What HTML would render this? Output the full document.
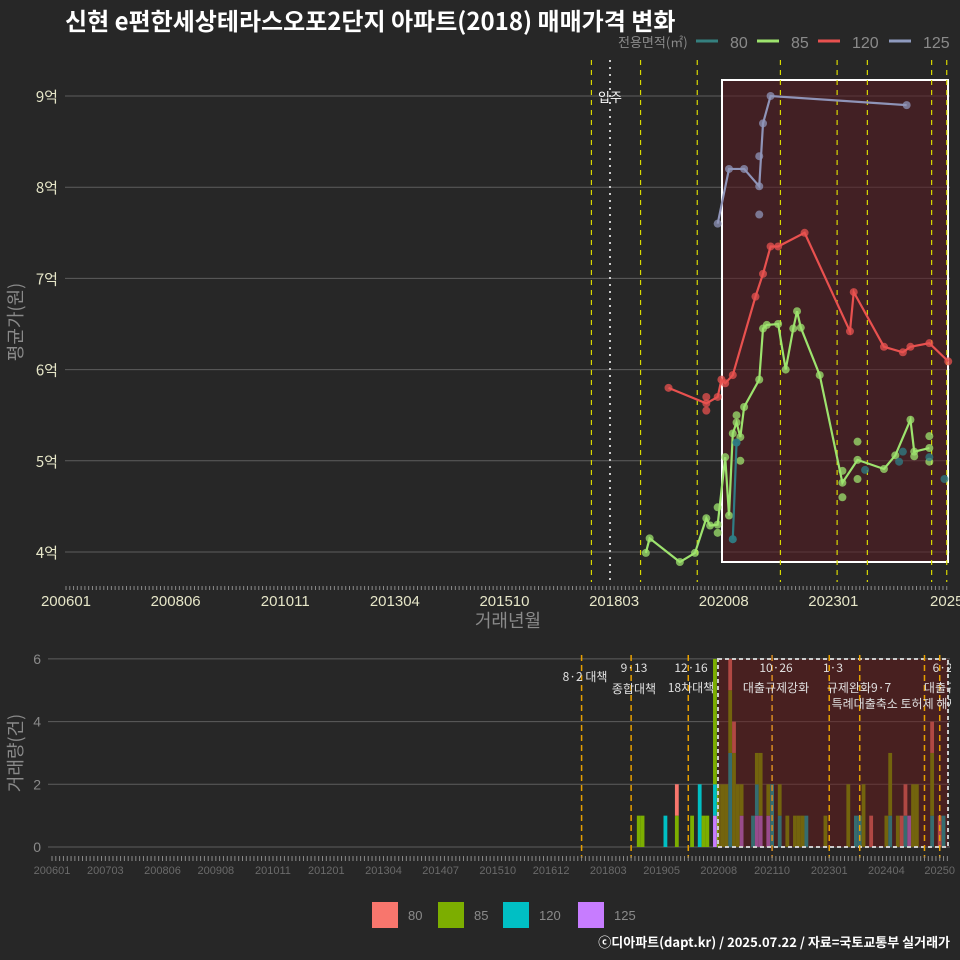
<!DOCTYPE html>
<html><head><meta charset="utf-8">
<style>
html,body{margin:0;padding:0;background:#272727;}
svg{display:block;font-family:"Liberation Sans","Noto Sans CJK KR",sans-serif;}
</style></head>
<body>
<svg id="chart" width="960" height="960" viewBox="0 0 960 960">
<defs><clipPath id="annClip"><rect x="0" y="640" width="951" height="240"/></clipPath></defs>
<rect x="0" y="0" width="960" height="960" fill="#272727"/>
<text x="65" y="30" font-size="24" font-weight="bold" fill="#ffffff" font-family="'Noto Sans CJK KR',sans-serif">신현 e편한세상테라스오포2단지 아파트(2018) 매매가격 변화</text>
<g>
<text x="618" y="47" font-size="13" fill="#8a8a8a" font-family="'Noto Sans CJK KR',sans-serif">전용면적(㎡)</text>
<line x1="696" y1="41" x2="718" y2="41" stroke="#35807f" stroke-width="3"/>
<text x="730" y="48" font-size="16" fill="#8a8a8a">80</text>
<line x1="757" y1="41" x2="779" y2="41" stroke="#9de36e" stroke-width="3"/>
<text x="791" y="48" font-size="16" fill="#8a8a8a">85</text>
<line x1="818" y1="41" x2="840" y2="41" stroke="#e8514f" stroke-width="3"/>
<text x="852" y="48" font-size="16" fill="#8a8a8a">120</text>
<line x1="889" y1="41" x2="911" y2="41" stroke="#8f9bbf" stroke-width="3"/>
<text x="923" y="48" font-size="16" fill="#8a8a8a">125</text>
</g>
<g id="topPanel"></g>
<g id="botPanel"></g>
<text x="950" y="947" text-anchor="end" font-size="13" font-weight="bold" fill="#ffffff" font-family="'Noto Sans CJK KR',sans-serif">ⓒ디아파트(dapt.kr) / 2025.07.22 / 자료=국토교통부 실거래가</text>
</svg>
<script>
// ---- price panel data ----
const priceTicks = [4,5,6,7,8,9];
const priceTickLabels = ["4억","5억","6억","7억","8억","9억"];
const xTickLabels = ["200601","200806","201011","201304","201510","201803","202008","202301","2025"];
const xTickMonths = [200601,200806,201011,201304,201509,201802,202007,202212,202506];
const s80LineMonths = [202009,202010];
const s80LineVals = [4.14,5.20];
const s80DotMonths = [202009,202010,202308,202405,202406,202501,202505];
const s80DotVals = [4.14,5.20,4.90,4.99,5.10,5.04,4.80];
const s85LineMonths = [201810,201811,201907,201911,202002,202003,202005,202007,202008,202009,202010,202011,202012,202104,202105,202106,202109,202111,202201,202202,202203,202208,202302,202306,202401,202404,202408,202409,202501];
const s85LineVals = [3.99,4.15,3.89,3.99,4.37,4.29,4.30,5.04,4.40,5.30,5.42,5.26,5.59,5.89,6.45,6.49,6.50,6.00,6.45,6.64,6.46,5.94,4.76,5.01,4.91,5.06,5.45,5.10,5.14];
const s85DotMonths = [202005,202005,202010,202011,202302,202302,202306,202306,202409,202501,202501];
const s85DotVals = [4.49,4.21,5.50,5.00,4.89,4.60,5.21,4.80,5.05,5.27,4.99];
const s120LineMonths = [201904,202002,202005,202006,202007,202009,202103,202105,202107,202109,202204,202304,202305,202401,202406,202408,202501,202506];
const s120LineVals = [5.80,5.63,5.70,5.89,5.85,5.94,6.80,7.05,7.35,7.35,7.50,6.42,6.85,6.25,6.19,6.25,6.29,6.09];
const s120DotMonths = [202002,202002];
const s120DotVals = [5.70,5.55];
const s125LineMonths = [202005,202008,202012,202104,202105,202107,202407];
const s125LineVals = [7.60,8.20,8.20,8.01,8.70,9.00,8.90];
const s125DotMonths = [202104,202104];
const s125DotVals = [8.34,7.70];
// ---- volume panel data ----
const volTicks = [0,2,4,6];
const volXLabels = ["200601","200703","200806","200908","201011","201201","201304","201407","201510","201612","201803","201905","202008","202110","202301","202404","20250"];
const volXMonths = [200601,200703,200806,200908,201011,201201,201304,201407,201510,201612,201803,201905,202008,202110,202301,202404,202506];
const barMonths = [201811,201812,201906,201909,202001,202003,202004,202005,202007,202008,202009,202010,202011,202012,202101,202102,202105,202106,202107,202109,202110,202112,202202,202204,202205,202206,202207,202212,202306,202308,202309,202310,202312,202404,202405,202407,202408,202409,202410,202411,202412,202504,202506,202507];
const bar80  = [0,0,0,1,0,0,0,0,0,0,0,0,1,1,0,0,0,0,0,0,0,0,0,0,0,0,0,0,0,0,0,0,1,0,0,0,1,1,0,0,0,1,1,0];
const bar85  = [1,1,0,1,1,0,1,1,4,2,2,2,2,3,2,1,0,1,2,1,0,1,1,1,1,1,0,1,2,0,0,2,0,1,2,1,0,0,0,2,2,2,0,0];
const bar120 = [0,0,1,0,0,2,0,0,1,0,0,0,3,0,0,0,1,1,0,0,2,1,0,0,0,0,1,0,0,1,1,0,0,0,1,0,0,1,0,0,0,1,0,1];
const bar125 = [0,0,0,0,0,0,0,0,1,0,0,0,0,0,0,1,0,1,1,1,0,0,0,0,0,0,0,0,0,0,0,0,0,0,0,0,0,0,1,0,0,0,0,0];
// ---- policy events ----
const topPolicyMonths = [201708,201809,201912,202110,202301,202309,202502,202506];
const botPolicyMonths = [201708,201809,201912,202110,202301,202309,202502,202506];

const NS="http://www.w3.org/2000/svg";
function mk(parent,tag,attrs){const e=document.createElementNS(NS,tag);for(const k in attrs)e.setAttribute(k,attrs[k]);parent.appendChild(e);return e;}
function mIdx(ym){return (Math.floor(ym/100)-2006)*12+(ym%100-1);}
function xTop(ym){return 66+3.78*mIdx(ym);}
function xPt(ym){return xTop(ym)+1.5;}
function yTop(v){return 552-(v-4)*91.2;}
function xBot(ym){return 52+3.81*mIdx(ym);}
function yBot(v){return 847-v*31.35;}

const topG=document.getElementById('topPanel');
priceTicks.forEach((t,i)=>{
  const l=mk(topG,'line',{x1:65,x2:950,y1:yTop(t),y2:yTop(t),stroke:'#5e5e5e','stroke-width':1});
  
  
  const tx=mk(topG,'text',{x:58,y:yTop(t)+6,'text-anchor':'end','font-size':15,fill:'#e6e6c8','font-family':"'Noto Sans CJK KR',sans-serif"});
  tx.textContent=priceTickLabels[i];
  
  
});
const box=mk(topG,'rect',{x:722,y:80,width:226,height:482,fill:'#5a1c22','fill-opacity':0.55,stroke:'#ffffff','stroke-width':2});


topPolicyMonths.forEach(m=>{
  const l=mk(topG,'line',{x1:xTop(m),x2:xTop(m),y1:60,y2:582,stroke:'#d8d800','stroke-width':1.2,'stroke-dasharray':'5,5'});
  
  
});
const mv=mk(topG,'line',{x1:610,x2:610,y1:60,y2:582,stroke:'#cccccc','stroke-width':2,'stroke-dasharray':'2,5'});


const mvt=mk(topG,'text',{x:610,y:102,'text-anchor':'middle','font-size':13,fill:'#ffffff','font-family':"'Noto Sans CJK KR',sans-serif"});
mvt.textContent='입주';


for(let m=0;m<=233;m++){
  const t=mk(topG,'line',{x1:66+3.78*m,x2:66+3.78*m,y1:586,y2:590,stroke:'#8a8a8a','stroke-width':1});
  
  
}
xTickLabels.forEach((s,i)=>{
  const tx=mk(topG,'text',{x:xTop(xTickMonths[i]),y:606,'text-anchor':'middle','font-size':15,fill:'#e6e6c8'});
  tx.textContent=s;
  
  
});
const xt=mk(topG,'text',{x:508,y:627,'text-anchor':'middle','font-size':18,fill:'#8a8a8a','font-family':"'Noto Sans CJK KR',sans-serif"});
xt.textContent='거래년월';


const yt=mk(topG,'text',{x:0,y:0,'text-anchor':'middle','font-size':18,fill:'#8a8a8a',transform:'translate(22,322) rotate(-90)','font-family':"'Noto Sans CJK KR',sans-serif"});
yt.textContent='평균가(원)';


function series(name,color,lm,lv,dm,dv){
  const g=mk(topG,'g',{});
  
  
  const pts=lm.map((m,i)=>xPt(m)+','+yTop(lv[i])).join(' ');
  const pl=mk(g,'polyline',{points:pts,fill:'none',stroke:color,'stroke-width':2.2});
  
  
  lm.forEach((m,i)=>{
    const c=mk(g,'circle',{cx:xPt(m),cy:yTop(lv[i]),r:4,fill:color,'fill-opacity':0.75});
    
    
  });
  dm.forEach((m,i)=>{
    const c=mk(g,'circle',{cx:xPt(m),cy:yTop(dv[i]),r:4,fill:color,'fill-opacity':0.75});
    
    
  });
}
series('85','#9de36e',s85LineMonths,s85LineVals,s85DotMonths,s85DotVals);
series('120','#e8514f',s120LineMonths,s120LineVals,s120DotMonths,s120DotVals);
series('125','#8f94b8',s125LineMonths,s125LineVals,s125DotMonths,s125DotVals);
series('80','#2f7d85',s80LineMonths,s80LineVals,s80DotMonths,s80DotVals);

const botG=document.getElementById('botPanel');
volTicks.forEach(t=>{
  const l=mk(botG,'line',{x1:48,x2:950,y1:yBot(t),y2:yBot(t),stroke:'#5e5e5e','stroke-width':1});
  
  
  const tx=mk(botG,'text',{x:41,y:yBot(t)+5,'text-anchor':'end','font-size':14,fill:'#8a8a8a'});
  tx.textContent=String(t);
  
  
});
const colors={b80:'#F8766D',b85:'#7CAE00',b120:'#00BFC4',b125:'#C77CFF'};
barMonths.forEach((m,i)=>{
  let base=0;
  [['125',bar125[i],colors.b125],['120',bar120[i],colors.b120],['85',bar85[i],colors.b85],['80',bar80[i],colors.b80]].forEach(([n,v,c])=>{
    if(!v)return;
    const r=mk(botG,'rect',{x:xBot(m)-1.9,y:yBot(base+v),width:3.8,height:yBot(base)-yBot(base+v),fill:c});
    
    
    base+=v;
  });
});
const bbox=mk(botG,'rect',{x:718,y:659,width:230,height:188,fill:'#6a1a1a','fill-opacity':0.5,stroke:'#cccccc','stroke-width':2,'stroke-dasharray':'4,3'});


botPolicyMonths.forEach((m,i)=>{
  const l=mk(botG,'line',{x1:xBot(m),x2:xBot(m),y1:655,y2:858,stroke:(i===3?'#d88a20':'#e8a000'),'stroke-width':1.5,'stroke-dasharray':'6,4'});
  
  
});
const annG=mk(botG,'g',{'clip-path':'url(#annClip)'});


const notes=[["8·2 대책",585,681],["9·13",634,672],["종합대책",634,693],["12·16",691,672],["18차대책",691,692],["10·26",776,672],["대출규제강화",776,692],["1·3",833,672],["규제완화9·7",859,692],["특례대출축소 토허제 해제",895,708],["6·27",946,672],["대출규제",946,692]];
notes.forEach(([s,x,y])=>{
  const t=mk(annG,'text',{x:x,y:y,'text-anchor':'middle','font-size':12,fill:'#e0e0e0','font-family':"'Noto Sans CJK KR',sans-serif"});
  t.textContent=s;
  
  
});
for(let m=0;m<=235;m++){
  const t=mk(botG,'line',{x1:52+3.81*m,x2:52+3.81*m,y1:856,y2:861,stroke:'#8a8a8a','stroke-width':1});
  
  
}
volXLabels.forEach((s,i)=>{
  const t=mk(botG,'text',{x:xBot(volXMonths[i]),y:874,'text-anchor':'middle','font-size':11,fill:'#6a6a6a'});
  t.textContent=s;
  
  
});
const yt2=mk(botG,'text',{x:0,y:0,'text-anchor':'middle','font-size':18,fill:'#8a8a8a',transform:'translate(22,753) rotate(-90)','font-family':"'Noto Sans CJK KR',sans-serif"});
yt2.textContent='거래량(건)';


[['80',372,colors.b80,408],['85',438,colors.b85,474],['120',503,colors.b120,539],['125',578,colors.b125,614]].forEach(([n,x,c,tx])=>{
  const r=mk(botG,'rect',{x:x,y:902,width:26,height:26,fill:c});
  
  
  const t=mk(botG,'text',{x:tx,y:920,'font-size':13,fill:'#8a8a8a'});
  t.textContent=n;
  
  
});
</script>
</body></html>
